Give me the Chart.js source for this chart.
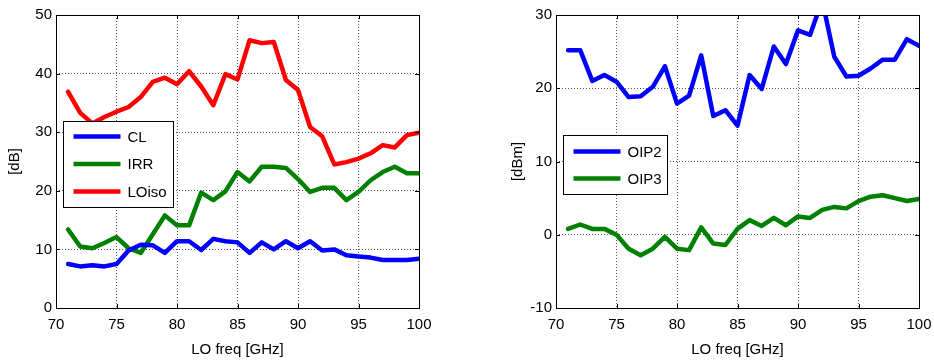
<!DOCTYPE html>
<html>
<head>
<meta charset="utf-8">
<script src="https://cdn.jsdelivr.net/npm/chart.js@4"></script>
<style>
  html, body { margin: 0; padding: 0; background: #fff; overflow: hidden; }
  #wrap { position: relative; width: 934px; height: 362px; }
  canvas { position: absolute; top: 0; display: block; }
</style>
</head>
<body>
<div id="wrap">
  <canvas id="left" width="467" height="362" style="left:0"></canvas>
  <canvas id="right" width="467" height="362" style="left:467px"></canvas>
</div>
<script>
// LO frequency sweep, GHz
const freq = [71,72,73,74,75,76,77,78,79,80,81,82,83,84,85,86,87,88,89,90,91,92,93,94,95,96,97,98,99,100];

// left plot, dB
const cl    = [7.5,7.1,7.3,7.1,7.5,9.8,10.8,10.7,9.4,11.4,11.4,9.9,11.8,11.4,11.2,9.4,11.2,10.0,11.4,10.2,11.4,9.8,10.0,9.0,8.8,8.6,8.2,8.2,8.2,8.4];
const irr   = [13.4,10.5,10.2,11.1,12.1,10.2,9.4,12.6,15.8,14.1,14.1,19.7,18.4,19.9,23.2,21.6,24.1,24.1,23.9,22.0,19.8,20.5,20.5,18.4,19.8,21.8,23.2,24.1,23.0,23.0];
const loiso = [36.9,33.3,31.5,32.6,33.5,34.3,36.0,38.6,39.3,38.2,40.4,37.8,34.6,39.9,39.0,45.7,45.2,45.4,38.9,37.2,30.9,29.3,24.5,24.9,25.5,26.4,27.8,27.4,29.5,29.9];

// right plot, dBm
const oip2 = [25.2,25.2,21.0,21.8,20.9,18.8,18.9,20.2,23.0,17.9,19.0,24.5,16.2,17.0,14.9,21.8,19.9,25.7,23.3,27.9,27.3,32.0,24.3,21.6,21.7,22.7,23.9,23.9,26.7,25.8];
const oip3 = [0.8,1.4,0.8,0.8,0.0,-1.9,-2.8,-1.9,-0.3,-1.9,-2.1,1.0,-1.2,-1.4,0.8,2.0,1.2,2.3,1.3,2.5,2.3,3.4,3.8,3.6,4.6,5.2,5.4,5.0,4.6,4.9];

const FONT = { family: '"Liberation Sans", Arial, sans-serif', size: 15 };

const pts = (ys) => freq.map((f, i) => ({ x: f, y: ys[i] }));

// matlab style box, inward ticks and legend
const matlabBox = {
  id: 'matlabBox',
  afterDraw(chart, args, opts) {
    const { ctx, chartArea: a, scales } = chart;
    ctx.save();
    ctx.strokeStyle = '#000';
    ctx.lineWidth = 1;
    ctx.beginPath();
    scales.x.ticks.forEach(t => {
      const px = Math.round(scales.x.getPixelForValue(t.value)) + 0.5;
      ctx.moveTo(px, a.bottom); ctx.lineTo(px, a.bottom - 4);
      ctx.moveTo(px, a.top); ctx.lineTo(px, a.top + 4);
    });
    scales.y.ticks.forEach(t => {
      const py = Math.round(scales.y.getPixelForValue(t.value)) + 0.5;
      ctx.moveTo(a.left, py); ctx.lineTo(a.left + 4, py);
      ctx.moveTo(a.right, py); ctx.lineTo(a.right - 4, py);
    });
    ctx.stroke();
    ctx.strokeRect(Math.round(a.left) + 0.5, Math.round(a.top) + 0.5,
                   Math.round(a.right - a.left), Math.round(a.bottom - a.top));

    // legend
    const lx = Math.round(a.left + opts.dx) + 0.5, ly = Math.round(a.top + opts.dy) + 0.5;
    ctx.fillStyle = '#fff';
    ctx.fillRect(lx, ly, opts.w, opts.h);
    ctx.strokeRect(lx, ly, opts.w, opts.h);
    ctx.font = FONT.size + 'px ' + FONT.family;
    ctx.textBaseline = 'middle';
    chart.data.datasets.forEach((ds, i) => {
      const y = ly + opts.first + i * opts.gap;
      ctx.strokeStyle = ds.borderColor;
      ctx.lineWidth = ds.borderWidth;
      ctx.beginPath();
      ctx.moveTo(lx + 10, y); ctx.lineTo(lx + 57, y);
      ctx.stroke();
      ctx.fillStyle = '#000';
      ctx.fillText(ds.label, lx + 64, y + 1);
    });
    ctx.restore();
  }
};

function makeChart(id, datasets, ymin, ymax, ylabel, yWidth, yTitlePad, padRight, legend) {
  return new Chart(document.getElementById(id), {
    type: 'line',
    data: { datasets },
    options: {
      responsive: false,
      animation: false,
      layout: { padding: { left: 0, right: padRight, top: 15, bottom: 0 } },
      elements: { point: { radius: 0 }, line: { tension: 0, borderJoinStyle: 'round', borderCapStyle: 'round' } },
      plugins: { legend: { display: false }, tooltip: { enabled: false }, matlabBox: legend },
      scales: {
        x: {
          type: 'linear', min: 70, max: 100,
          ticks: { stepSize: 5, color: '#000', font: FONT, padding: 8, maxRotation: 0 },
          grid: { color: '#555', lineWidth: 1, drawTicks: false },
          border: { display: false, dash: [1, 2] },
          title: { display: true, text: 'LO freq [GHz]', color: '#000', font: FONT, padding: { top: 0, bottom: 3 } },
          afterFit: (s) => { s.height = 54; s.paddingLeft = 0; s.paddingRight = 0; }
        },
        y: {
          min: ymin, max: ymax,
          ticks: { stepSize: 10, color: '#000', font: FONT, padding: 4 },
          grid: { color: '#555', lineWidth: 1, drawTicks: false },
          border: { display: false, dash: [1, 2] },
          title: { display: true, text: ylabel, color: '#000', font: FONT, padding: { top: yTitlePad, bottom: 0 } },
          afterFit: (s) => { s.width = yWidth; s.paddingTop = 0; s.paddingBottom = 0; }
        }
      }
    },
    plugins: [matlabBox]
  });
}

const line = (label, ys, color) => ({ label, data: pts(ys), borderColor: color, borderWidth: 4.5, fill: false, clip: 0 });

makeChart('left', [
  line('CL', cl, '#0000ff'),
  line('IRR', irr, '#008000'),
  line('LOiso', loiso, '#ff0000')
], 0, 50, '[dB]', 56, 6, 48, { dx: 7, dy: 106, w: 110, h: 86, first: 15, gap: 27.5 });

makeChart('right', [
  line('OIP2', oip2, '#0000ff'),
  line('OIP3', oip3, '#008000')
], -10, 30, '[dBm]', 89, 42, 15, { dx: 7, dy: 120, w: 104, h: 59, first: 16, gap: 27 });
</script>
</body>
</html>
